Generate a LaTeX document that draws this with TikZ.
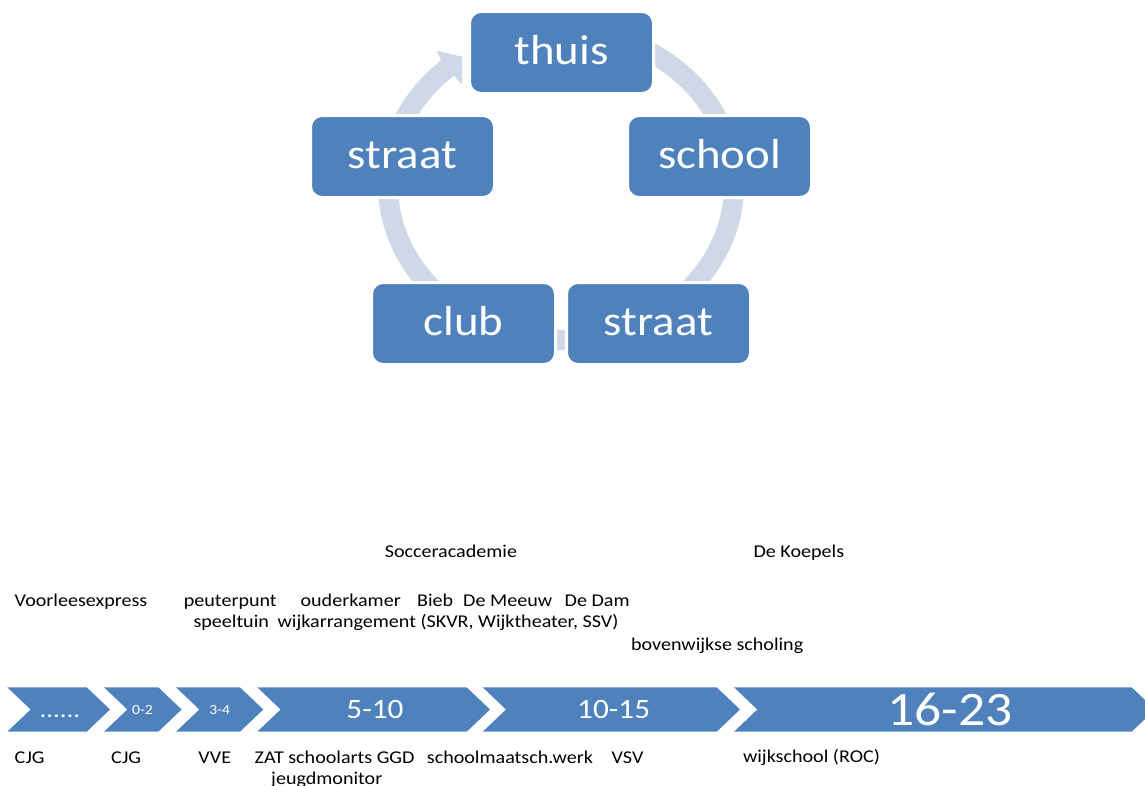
\documentclass[tikz,border=0pt]{standalone}
\usepackage{fontspec}
\setmainfont{Carlito}[FakeStretch=1.116]
\usetikzlibrary{calc}
\definecolor{acc}{HTML}{4F81BD}
\definecolor{ringc}{HTML}{D0D8E8}
\begin{document}
\begin{tikzpicture}[x=1pt,y=-1pt,
  box/.style={draw=white, line width=3pt, fill=acc, rounded corners=11.5pt,
    minimum width=184pt, minimum height=82pt, inner sep=0pt, text=white,
    font=\fontsize{42}{50}\selectfont, text height=24pt, text depth=0pt},
  chev/.style={fill=acc},
  lbl/.style={anchor=base west, inner sep=0pt, font=\fontsize{18}{21.6}\selectfont, text=black},
  clbl/.style={inner sep=0pt, text=white}]
\useasboundingbox (0,0) rectangle (1145,785);
\clip (0,0) rectangle (1145,785);
\coordinate (C) at (561,185);
% cycle ring with arrow head
\fill[ringc] ($(C)+(-62:183 and 165)$)
  arc[start angle=-62, end angle=229, x radius=183, y radius=165]
  -- (436.7,50.7) -- (462,56.7) -- (462,84) -- (458,80.5)
  -- ($(C)+(229:163 and 145)$)
  arc[start angle=229, end angle=-62, x radius=163, y radius=145] -- cycle;
% boxes
\node[box] (thuis)   at (561.5,52.5)  {thuis};
\node[box] (school)  at (719.5,156.5) {school};
\node[box] (straatR) at (658.5,323.5) {straat};
\node[box] (club)    at (463.5,323.5) {club};
\node[box] (straatL) at (402.5,156.5) {straat};
% chevrons
\fill[chev] (7.3,687.3)--(86.7,687.3)--(110,709.5)--(86.7,731.7)--(7.3,731.7)--(30.6,709.5)--cycle;
\fill[chev] (104,687.3)--(158.3,687.3)--(181.6,709.5)--(158.3,731.7)--(104,731.7)--(127.3,709.5)--cycle;
\fill[chev] (176,687.3)--(240,687.3)--(263.3,709.5)--(240,731.7)--(176,731.7)--(199.3,709.5)--cycle;
\fill[chev] (257.3,687.3)--(466.7,687.3)--(490,709.5)--(466.7,731.7)--(257.3,731.7)--(280.6,709.5)--cycle;
\fill[chev] (482.7,687.3)--(716.7,687.3)--(740,709.5)--(716.7,731.7)--(482.7,731.7)--(506,709.5)--cycle;
\fill[chev] (734,687.3)--(1131.7,687.3)--(1155,709.5)--(1131.7,731.7)--(734,731.7)--(757.3,709.5)--cycle;
\node[clbl, anchor=base, font=\fontsize{24}{28}\selectfont] (c1) at (60,717) {......};
\node[clbl, font=\fontsize{14}{17}\selectfont] (c2) at (142.5,709.5) {0-2};
\node[clbl, font=\fontsize{14}{17}\selectfont] (c3) at (219.7,709.5) {3-4};
\node[clbl, font=\fontsize{28}{33}\selectfont] (c4) at (375,709.5) {5-10};
\node[clbl, font=\fontsize{28}{33}\selectfont] (c5) at (613.7,709.5) {10-15};
\node[clbl, font=\fontsize{48}{56}\selectfont] (c6) at (950,709.5) {16-23};
% labels above
\node[lbl] (t1) at (384.6,557.5) {Socceracademie};
\node[lbl] (t2) at (753.3,557.5) {De Koepels};
\node[lbl] (t3) at (14.5,606) {Voorleesexpress};
\node[lbl] (t4) at (183.7,606) {peuterpunt};
\node[lbl] (t5) at (300.4,606) {ouderkamer};
\node[lbl] (t6) at (417,606) {Bieb};
\node[lbl] (t7) at (463,606) {De Meeuw};
\node[lbl] (t8) at (564.5,606) {De Dam};
\node[lbl] (t9) at (193.3,627.7) {speeltuin};
\node[lbl] (t10) at (277.4,627.7) {wijkarrangement (SKVR, Wijktheater, SSV)};
\node[lbl] (t11) at (630.9,650) {bovenwijkse scholing};
% labels below
\node[lbl] (b1) at (14.5,763) {CJG};
\node[lbl] (b2) at (111,763) {CJG};
\node[lbl] (b3) at (198.2,763) {VVE};
\node[lbl] (b4) at (254.5,763) {ZAT schoolarts GGD};
\node[lbl] (b5) at (426.7,763) {schoolmaatsch.werk};
\node[lbl] (b6) at (611.5,763) {VSV};
\node[lbl] (b7) at (742.8,762.5) {wijkschool (ROC)};
\node[lbl] (b8) at (271,784.5) {jeugdmonitor};
\end{tikzpicture}
\end{document}
